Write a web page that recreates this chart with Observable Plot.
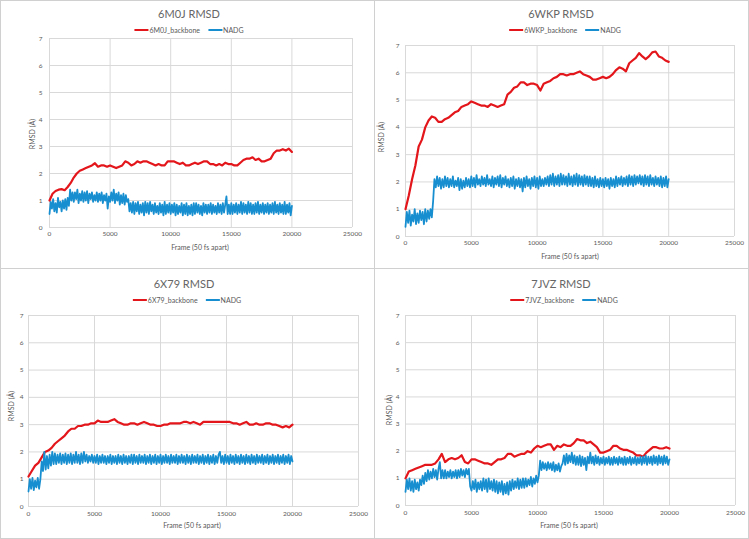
<!DOCTYPE html>
<html><head><meta charset="utf-8">
<script src="https://cdn.jsdelivr.net/npm/d3@7"></script>
<script src="https://cdn.jsdelivr.net/npm/@observablehq/plot@0.6"></script>
<style>
body{margin:0;background:#fff;font-family:Lato,"Open Sans",sans-serif;}
#root{position:relative;width:749px;height:539px;overflow:hidden;background:#fff}
.abs{position:absolute;white-space:nowrap;color:#595959}
.title{font-size:11px;color:#666;transform:translate(-50%,-50%)}
.axlab{font-size:7px;transform:translate(-50%,-50%)}
.ylab{font-size:7px;transform:translate(-50%,-50%) rotate(-90deg)}
.legend{font-size:7px;transform:translate(-50%,-50%);display:flex;align-items:center}
.legend .sw{display:inline-block;width:14px;height:2px;margin-right:1px}
.legend .item{display:flex;align-items:center;margin:0 4px}
.vline{position:absolute;background:#d0d0d0}
svg{position:absolute}
</style></head><body><div id="root"></div>
<script>
// ---------- data ----------
const framesBackbone = d3.range(0, 20001, 250);
const framesNADG = d3.range(0, 20001, 100);
const xTicks = [0, 5000, 10000, 15000, 20000, 25000];
const yTicks = [0, 1, 2, 3, 4, 5, 6, 7];
const proteins = ["6M0J", "6WKP", "6X79", "7JVZ"];

const backbone_6M0J = [
  1.0,1.25,1.35,1.4,1.42,1.38,1.5,1.65,1.85,2.0,
  2.1,2.15,2.2,2.25,2.3,2.38,2.25,2.3,2.3,2.25,
  2.3,2.25,2.2,2.25,2.3,2.45,2.4,2.3,2.35,2.45,
  2.4,2.45,2.45,2.4,2.35,2.3,2.35,2.3,2.3,2.45,
  2.45,2.45,2.4,2.35,2.4,2.3,2.3,2.35,2.4,2.35,
  2.4,2.45,2.45,2.35,2.35,2.3,2.35,2.3,2.4,2.35,
  2.35,2.3,2.3,2.4,2.5,2.55,2.55,2.6,2.5,2.55,
  2.45,2.45,2.5,2.55,2.75,2.85,2.85,2.9,2.85,2.92,
  2.8];
const backbone_6WKP = [
  1.0,1.5,2.1,2.6,3.3,3.55,4.0,4.25,4.4,4.35,
  4.2,4.2,4.3,4.35,4.45,4.55,4.6,4.75,4.8,4.85,
  4.95,4.9,4.85,4.8,4.8,4.75,4.85,4.8,4.75,4.8,
  4.85,5.2,5.3,5.45,5.5,5.65,5.65,5.55,5.6,5.6,
  5.55,5.35,5.6,5.65,5.7,5.8,5.85,5.95,5.95,5.9,
  5.95,5.95,6.0,6.05,5.95,5.9,5.85,5.75,5.75,5.8,
  5.85,5.8,5.85,5.95,6.1,6.2,6.15,6.05,6.35,6.45,
  6.55,6.72,6.6,6.5,6.6,6.75,6.78,6.6,6.55,6.45,
  6.4];
const backbone_6X79 = [
  1.1,1.3,1.5,1.6,1.8,2.0,2.05,2.15,2.3,2.4,
  2.5,2.6,2.75,2.85,2.85,2.95,2.95,3.0,3.0,3.05,
  3.05,3.15,3.1,3.1,3.1,3.15,3.2,3.1,3.05,3.0,
  3.0,3.05,3.05,3.0,3.05,3.1,3.05,3.0,3.0,2.95,
  2.95,3.0,3.0,3.05,3.05,3.05,3.05,3.1,3.1,3.05,
  3.1,3.05,3.0,3.1,3.1,3.1,3.1,3.1,3.1,3.1,
  3.1,3.1,3.05,3.05,3.0,3.05,3.1,3.0,3.0,3.05,
  3.0,3.0,3.05,3.05,3.0,3.0,2.95,2.9,2.95,2.9,
  3.0];
const backbone_7JVZ = [
  1.0,1.25,1.3,1.35,1.4,1.45,1.5,1.5,1.5,1.55,
  1.7,1.9,1.6,1.7,1.75,1.7,1.75,1.85,1.6,1.55,
  1.7,1.7,1.65,1.6,1.55,1.55,1.5,1.6,1.7,1.7,
  1.75,1.9,1.9,1.8,1.85,1.9,1.9,2.0,1.95,2.1,
  2.2,2.15,2.2,2.25,2.25,2.05,2.2,2.15,2.25,2.2,
  2.2,2.3,2.45,2.4,2.4,2.3,2.35,2.25,2.15,1.95,
  1.95,2.0,2.05,2.2,2.2,2.1,2.05,2.05,2.0,1.95,
  1.85,1.85,1.8,1.95,2.05,2.15,2.15,2.1,2.1,2.15,
  2.1];

const nadg_6M0J = [
  0.5,0.95,0.7,1.05,0.6,0.9,0.55,1.1,0.75,0.95,
  0.6,1.0,0.7,1.05,0.65,1.1,0.8,1.4,1.0,1.3,
  0.95,1.3,1.05,1.4,0.9,1.25,1.0,1.35,0.95,1.3,
  1.0,1.35,0.9,1.25,1.05,1.3,0.95,1.2,1.0,1.3,
  0.95,1.25,1.0,1.3,0.9,1.2,1.0,1.25,0.7,1.15,
  0.95,1.3,1.0,1.4,0.9,1.25,1.0,1.3,0.85,1.2,
  0.9,1.25,0.85,1.2,0.95,1.05,0.6,0.9,0.55,0.95,
  0.5,0.9,0.6,0.95,0.5,0.85,0.55,0.9,0.45,0.95,
  0.55,0.9,0.5,0.95,0.6,0.85,0.5,0.9,0.55,0.8,
  0.5,0.9,0.55,0.85,0.45,0.95,0.5,0.85,0.55,0.9,
  0.5,0.85,0.55,0.9,0.45,0.85,0.5,0.8,0.55,0.9,
  0.45,0.85,0.5,0.9,0.45,0.8,0.5,0.85,0.45,0.9,
  0.5,0.9,0.55,0.85,0.5,0.8,0.45,0.9,0.55,0.85,
  0.5,0.85,0.55,0.9,0.5,0.85,0.55,0.8,0.5,0.9,
  0.55,0.85,0.5,0.9,0.55,0.85,1.15,0.5,0.85,0.5,
  0.9,0.5,0.85,0.55,0.9,0.5,0.85,0.55,0.95,0.5,
  0.9,0.55,0.85,0.5,0.95,0.55,0.9,0.5,0.85,0.5,
  0.9,0.55,0.95,0.5,0.85,0.55,0.9,0.5,0.85,0.55,
  0.9,0.5,0.85,0.55,0.9,0.5,0.95,0.55,0.85,0.5,
  0.9,0.55,0.85,0.5,0.95,0.5,0.85,0.55,0.9,0.45,
  0.8];
const nadg_6WKP = [
  0.35,0.9,0.5,0.95,0.4,0.8,0.55,1.0,0.45,0.85,
  0.5,0.95,0.6,0.9,0.45,1.0,0.55,0.95,0.65,1.0,
  0.7,1.3,2.1,1.8,2.2,1.85,2.15,1.75,2.1,1.8,
  2.2,1.85,2.15,1.8,2.1,1.85,2.2,1.8,2.05,1.85,
  2.15,1.7,2.1,1.75,2.05,1.8,2.15,1.85,2.1,1.8,
  2.2,1.85,2.15,1.8,2.25,1.9,2.1,1.85,2.2,1.9,
  2.15,1.85,2.25,1.9,2.1,1.85,2.2,1.8,2.15,1.9,
  2.2,1.85,2.25,1.8,2.15,1.9,2.2,1.85,2.1,1.8,
  2.15,1.85,2.2,1.75,2.1,1.85,2.15,1.8,2.1,1.65,
  2.15,1.8,2.2,1.85,2.1,1.75,2.15,1.85,2.2,1.8,
  2.15,1.75,2.2,1.85,2.1,1.85,2.15,1.9,2.2,1.85,
  2.25,1.9,2.3,1.85,2.2,1.9,2.25,1.85,2.3,1.9,
  2.25,1.9,2.2,1.85,2.3,1.9,2.2,1.85,2.25,1.9,
  2.3,1.85,2.25,1.9,2.2,1.85,2.25,1.9,2.2,1.85,
  2.2,1.85,2.15,1.8,2.2,1.85,2.1,1.8,2.15,1.85,
  2.1,1.8,2.15,1.85,2.1,1.75,2.15,1.85,2.1,1.8,
  2.2,1.85,2.15,1.9,2.2,1.85,2.15,1.9,2.2,1.85,
  2.25,1.9,2.2,1.85,2.25,1.9,2.2,1.95,2.25,1.9,
  2.2,1.85,2.25,1.9,2.2,1.85,2.25,1.9,2.15,1.85,
  2.2,1.9,2.15,1.85,2.2,1.8,2.15,1.85,2.2,1.8,
  2.1];
const nadg_6X79 = [
  0.55,1.0,0.65,1.05,0.6,0.95,0.7,1.05,0.65,1.0,
  1.65,1.3,2.0,1.35,1.85,1.4,1.9,1.5,2.0,1.55,
  1.95,1.55,1.9,1.6,1.95,1.55,1.9,1.6,1.95,1.55,
  1.9,1.6,1.95,1.55,1.9,1.6,2.0,1.6,1.9,1.55,
  1.95,1.6,2.0,1.65,1.9,1.6,1.85,1.65,1.9,1.6,
  1.85,1.6,1.9,1.55,1.85,1.6,1.9,1.6,1.85,1.55,
  1.85,1.6,1.9,1.55,1.85,1.6,1.85,1.55,1.9,1.6,
  1.85,1.55,1.9,1.6,1.85,1.55,1.85,1.6,1.9,1.55,
  1.9,1.6,1.85,1.55,1.9,1.6,1.85,1.6,1.9,1.55,
  1.85,1.6,1.9,1.55,1.85,1.6,1.9,1.55,1.85,1.6,
  1.9,1.55,1.85,1.6,1.9,1.6,1.85,1.55,1.9,1.6,
  1.85,1.6,1.9,1.55,1.85,1.6,1.9,1.6,1.85,1.55,
  1.9,1.6,1.85,1.55,1.9,1.6,1.85,1.6,1.9,1.55,
  1.85,1.6,1.9,1.55,1.85,1.6,1.9,1.55,1.85,1.6,
  1.9,1.55,1.85,1.6,1.9,2.0,1.6,1.85,1.55,1.9,
  1.6,1.85,1.55,1.9,1.6,1.85,1.55,1.9,1.6,1.85,
  1.55,1.9,1.6,1.85,1.55,1.9,1.6,1.85,1.55,1.9,
  1.6,1.85,1.55,1.9,1.6,1.85,1.6,1.9,1.55,1.85,
  1.6,1.9,1.55,1.85,1.6,1.9,1.55,1.85,1.6,1.9,
  1.55,1.85,1.6,1.9,1.55,1.85,1.6,1.9,1.55,1.85,
  1.65];
const nadg_7JVZ = [
  0.5,0.95,0.6,1.0,0.55,0.9,0.5,0.95,0.6,0.85,
  0.55,0.95,0.75,1.1,0.8,1.2,0.9,1.3,0.95,1.25,
  1.0,1.35,1.05,1.3,0.95,1.35,1.6,1.0,1.3,1.0,
  1.3,1.0,1.25,1.05,1.3,1.0,1.25,1.05,1.3,1.0,
  1.3,1.05,1.35,1.1,1.3,1.05,1.35,1.15,1.35,0.7,
  0.55,0.9,0.6,0.95,0.5,0.85,0.6,0.9,0.55,1.0,
  0.6,0.95,0.5,1.0,0.6,0.9,0.55,0.95,0.5,0.9,
  0.45,0.85,0.5,0.9,0.4,0.8,0.45,0.85,0.4,0.9,
  0.55,0.95,0.6,0.9,0.65,1.0,0.6,0.95,0.65,1.0,
  0.65,1.0,0.7,0.95,0.75,1.05,0.7,1.0,0.8,1.1,
  0.85,1.1,1.65,1.3,1.6,1.35,1.55,1.3,1.6,1.35,
  1.55,1.3,1.6,1.25,1.5,1.3,1.55,1.25,1.45,1.55,
  1.85,1.5,1.9,1.55,1.85,1.6,1.95,1.55,1.85,1.5,
  1.8,1.5,1.85,1.45,1.8,1.5,1.75,1.3,1.8,1.55,
  1.95,1.55,1.8,1.5,1.85,1.55,1.8,1.5,1.75,1.55,
  1.8,1.5,1.75,1.55,1.8,1.5,1.75,1.5,1.8,1.55,
  1.75,1.5,1.8,1.55,1.75,1.5,1.8,1.5,1.75,1.55,
  1.8,1.5,1.75,1.55,1.8,1.5,1.75,1.55,1.8,1.5,
  1.8,1.55,1.85,1.5,1.8,1.55,1.8,1.5,1.85,1.55,
  1.8,1.5,1.85,1.55,1.8,1.5,1.85,1.55,1.8,1.5,
  1.7];

const backboneSeries = [backbone_6M0J, backbone_6WKP, backbone_6X79, backbone_7JVZ];
const nadgSeries = [nadg_6M0J, nadg_6WKP, nadg_6X79, nadg_7JVZ];

// ---------- layout ----------
const RED = "#e3161b", BLUE = "#168ecf";
const layout = [
  {left:0, top:0, w:374, h:268, ml:49, mr:22, mt:38, mb:41, yPad:7, xPad:4,
   title:[189,13], legend:[189,30], xlab:[200,247], ylab:[32,134]},
  {left:374, top:0, w:375, h:268, ml:31, mr:15, mt:45, mb:32, yPad:6, xPad:4,
   title:[561,13], legend:[565,30], xlab:[570,256], ylab:[381,137]},
  {left:0, top:268, w:374, h:271, ml:28, mr:16, mt:47, mb:33, yPad:5, xPad:5,
   title:[184,283], legend:[187,300], xlab:[192,525], ylab:[11,406]},
  {left:374, top:268, w:375, h:271, ml:31, mr:14, mt:47, mb:34, yPad:6, xPad:5,
   title:[561,283], legend:[564,300], xlab:[569,525], ylab:[389,410]}
];

const root = document.getElementById("root");
function addText(cls, xy, txt) {
  const d = document.createElement("div");
  d.className = "abs " + cls;
  d.style.left = xy[0] + "px"; d.style.top = xy[1] + "px";
  d.textContent = txt;
  root.appendChild(d);
  return d;
}

proteins.forEach((name, k) => {
  const L = layout[k];
  const bb = framesBackbone.map((f, i) => ({frame: f, rmsd: backboneSeries[k][i]}));
  const na = framesNADG.map((f, i) => ({frame: f, rmsd: nadgSeries[k][i]}));
  const svg = Plot.plot({
    width: L.w, height: L.h,
    marginLeft: L.ml, marginRight: L.mr, marginTop: L.mt, marginBottom: L.mb,
    x: {domain: [0, 25000]},
    y: {domain: [0, 7]},
    style: {fontFamily: "Lato, 'Open Sans', sans-serif", fontSize: "6.5px", color: "#595959", background: "transparent", overflow: "visible"},
    marks: [
      Plot.gridX(xTicks, {stroke: "#d9d9d9", strokeOpacity: 1}),
      Plot.gridY(yTicks, {stroke: "#d9d9d9", strokeOpacity: 1}),
      Plot.axisX(xTicks, {tickSize: 0, tickPadding: L.xPad, label: null, tickFormat: d => String(d)}),
      Plot.axisY(yTicks, {tickSize: 0, tickPadding: L.yPad, label: null, tickFormat: d => String(d)}),
      Plot.line(bb, {x: "frame", y: "rmsd", stroke: RED, strokeWidth: 2.2}),
      Plot.line(na, {x: "frame", y: "rmsd", stroke: BLUE, strokeWidth: 1.8})
    ]
  });
  svg.style.left = L.left + "px"; svg.style.top = L.top + "px";
  root.appendChild(svg);

  addText("title", L.title, name + " RMSD");
  addText("axlab", L.xlab, "Frame (50 fs apart)");
  addText("ylab", L.ylab, "RMSD (Å)");
  const lg = addText("legend", L.legend, "");
  [[name + "_backbone", RED], ["NADG", BLUE]].forEach(([t, c]) => {
    const it = document.createElement("span"); it.className = "item";
    const sw = document.createElement("span"); sw.className = "sw"; sw.style.background = c;
    const tx = document.createElement("span"); tx.textContent = t;
    it.appendChild(sw); it.appendChild(tx); lg.appendChild(it);
  });
});

// panel separators
function addLine(x, y, w, h) {
  const d = document.createElement("div"); d.className = "vline";
  Object.assign(d.style, {left: x + "px", top: y + "px", width: w + "px", height: h + "px"});
  root.appendChild(d);
}
addLine(374, 0, 1, 539);
addLine(0, 268, 749, 1);
addLine(0, 0, 749, 1);
addLine(0, 538, 749, 1);
addLine(0, 0, 1, 539);
addLine(748, 0, 1, 539);
</script>
</body></html>
